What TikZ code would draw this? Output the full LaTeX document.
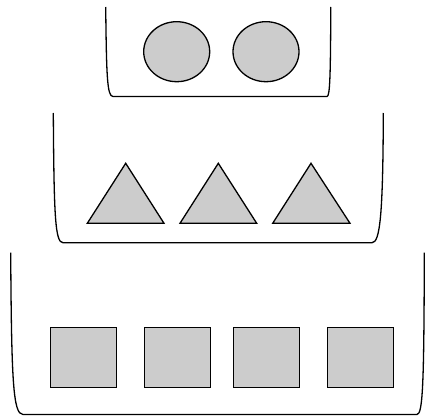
\documentclass[tikz,border=0pt]{standalone}
\usetikzlibrary{shapes.geometric}
\begin{document}
\begin{tikzpicture}[x=1pt,y=-1pt,
  wall/.style={line width=1.3pt, line join=round},
  item/.style={draw=black, fill=black!20, line width=1.3pt, line join=miter},
  oval/.style={item, ellipse, minimum width=66pt, minimum height=60pt, inner sep=0pt},
  sq/.style={item, rectangle, minimum width=66pt, minimum height=60pt, inner sep=0pt}]
\useasboundingbox (0,0) rectangle (425,417);
% top container
\draw[wall] (105.7,7) .. controls (106.5,75) and (107,96.5) .. (113,96.5)
  -- (327,96.5) .. controls (330,96.5) and (330.5,75) .. (330.8,7);
\node[oval] (c1) at (176.7,51.7) {};
\node[oval] (c2) at (266,51.7) {};
% middle container
\draw[wall] (53.3,113) .. controls (54,215) and (55,242.7) .. (63,242.7)
  -- (372,242.7) .. controls (380,242.7) and (383,215) .. (383.3,113);
\draw[item] (87.3,223.3) -- (125.7,163.3) -- (164,223.3) -- cycle;
\draw[item] (180,223.3) -- (218.3,163.3) -- (256.7,223.3) -- cycle;
\draw[item] (272.7,223.3) -- (311,163.3) -- (350,223.3) -- cycle;
% bottom container
\draw[wall] (10.7,252.7) .. controls (11.5,380) and (13,414.5) .. (23,414.5)
  -- (417,414.5) .. controls (423,414.5) and (424,380) .. (424.3,252.7);
\node[sq] (s1) at (83.8,357.7) {};
\node[sq] (s2) at (177.5,357.7) {};
\node[sq] (s3) at (266.3,357.7) {};
\node[sq] (s4) at (360.2,357.7) {};
\end{tikzpicture}
\end{document}
